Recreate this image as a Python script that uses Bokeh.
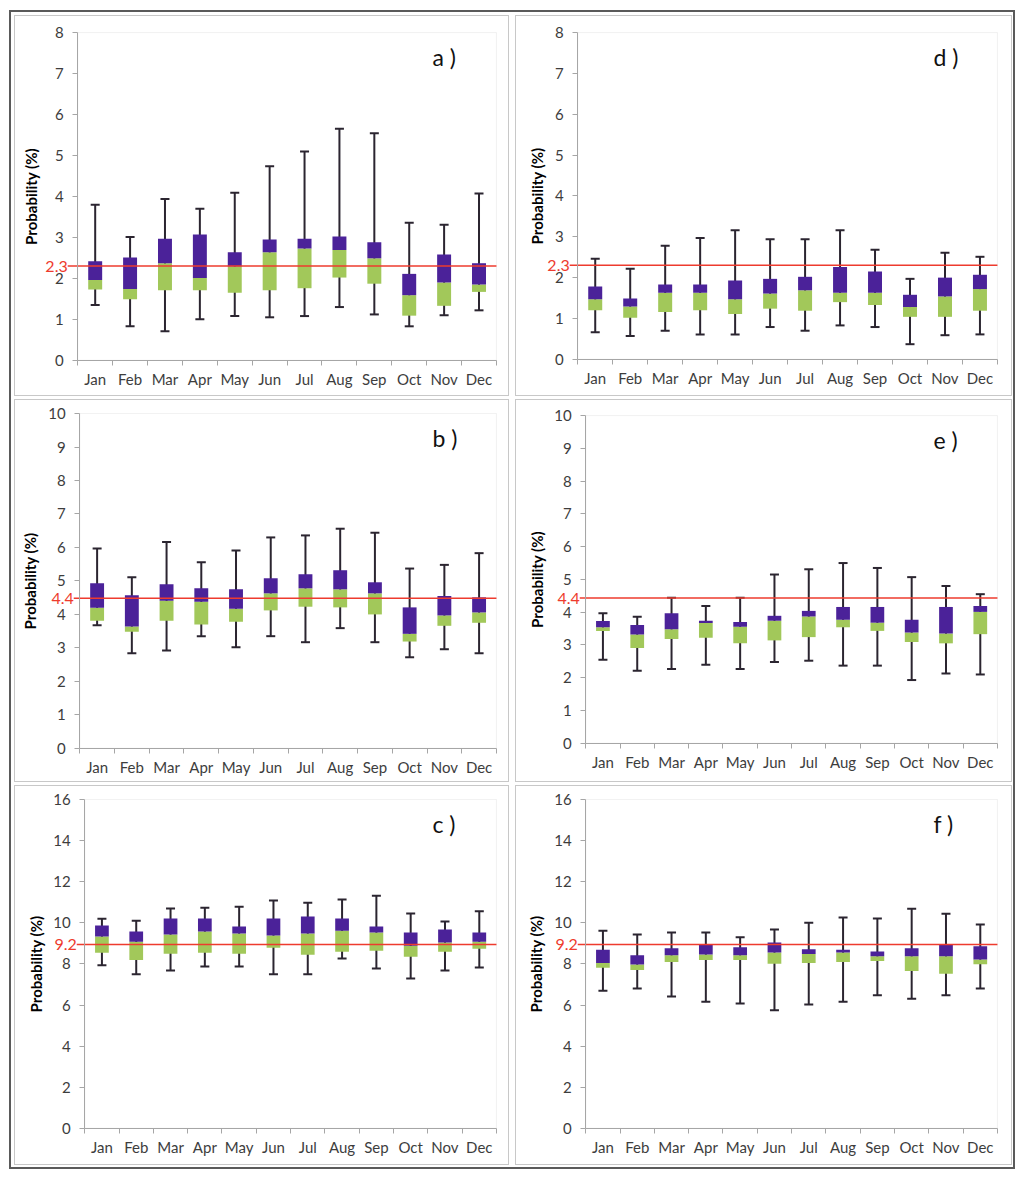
from bokeh.plotting import figure
from bokeh.layouts import column, row
from bokeh.models import FixedTicker, SingleIntervalTicker, Label, Range1d, BoxAnnotation
from bokeh.embed import file_html
from bokeh.resources import INLINE

MONTHS = ["Jan", "Feb", "Mar", "Apr", "May", "Jun", "Jul", "Aug", "Sep", "Oct", "Nov", "Dec"]

# panel a
A_MIN = [1.35, 0.83, 0.71, 1.00, 1.08, 1.05, 1.08, 1.30, 1.12, 0.83, 1.10, 1.22]
A_Q1 = [1.73, 1.49, 1.71, 1.71, 1.65, 1.71, 1.76, 2.02, 1.87, 1.09, 1.33, 1.67]
A_MED = [1.96, 1.74, 2.37, 2.01, 2.29, 2.64, 2.73, 2.69, 2.49, 1.59, 1.90, 1.85]
A_Q3 = [2.42, 2.51, 2.97, 3.07, 2.64, 2.95, 2.97, 3.02, 2.88, 2.11, 2.58, 2.37]
A_MAX = [3.80, 3.01, 3.94, 3.70, 4.09, 4.74, 5.10, 5.65, 5.54, 3.36, 3.31, 4.07]

# panel b
B_MIN = [3.68, 2.84, 2.92, 3.35, 3.02, 3.35, 3.17, 3.59, 3.17, 2.72, 2.96, 2.84]
B_Q1 = [3.81, 3.48, 3.81, 3.70, 3.78, 4.12, 4.23, 4.21, 4.00, 3.19, 3.66, 3.75]
B_MED = [4.20, 3.64, 4.41, 4.38, 4.17, 4.63, 4.78, 4.75, 4.63, 3.42, 3.97, 4.06]
B_Q3 = [4.93, 4.57, 4.90, 4.78, 4.75, 5.08, 5.20, 5.32, 4.96, 4.21, 4.55, 4.51]
B_MAX = [5.97, 5.11, 6.16, 5.56, 5.91, 6.30, 6.36, 6.56, 6.44, 5.37, 5.48, 5.83]

# panel c
C_MIN = [7.93, 7.50, 7.68, 7.88, 7.88, 7.50, 7.50, 8.27, 7.78, 7.29, 7.68, 7.83]
C_Q1 = [8.55, 8.19, 8.50, 8.55, 8.50, 8.79, 8.45, 8.59, 8.64, 8.35, 8.59, 8.74]
C_MED = [9.33, 9.08, 9.43, 9.58, 9.48, 9.38, 9.48, 9.62, 9.53, 8.89, 9.04, 9.08]
C_Q3 = [9.87, 9.58, 10.21, 10.21, 9.82, 10.21, 10.31, 10.21, 9.82, 9.53, 9.67, 9.53]
C_MAX = [10.20, 10.10, 10.70, 10.74, 10.78, 11.09, 10.98, 11.14, 11.32, 10.46, 10.07, 10.56]

# panel d
D_MIN = [0.66, 0.57, 0.70, 0.61, 0.61, 0.79, 0.70, 0.83, 0.79, 0.37, 0.59, 0.61]
D_Q1 = [1.20, 1.02, 1.16, 1.20, 1.11, 1.24, 1.19, 1.40, 1.33, 1.04, 1.04, 1.19]
D_MED = [1.47, 1.29, 1.63, 1.63, 1.47, 1.61, 1.69, 1.63, 1.63, 1.28, 1.54, 1.72]
D_Q3 = [1.78, 1.49, 1.83, 1.83, 1.93, 1.97, 2.02, 2.26, 2.15, 1.58, 2.00, 2.07]
D_MAX = [2.46, 2.22, 2.78, 2.97, 3.16, 2.94, 2.94, 3.16, 2.68, 1.97, 2.61, 2.51]

# panel e
E_MIN = [2.55, 2.21, 2.27, 2.40, 2.27, 2.48, 2.52, 2.37, 2.37, 1.93, 2.13, 2.10]
E_Q1 = [3.43, 2.91, 3.18, 3.22, 3.05, 3.14, 3.24, 3.54, 3.43, 3.09, 3.05, 3.33]
E_MED = [3.54, 3.32, 3.48, 3.67, 3.56, 3.74, 3.87, 3.77, 3.68, 3.38, 3.35, 4.01]
E_Q3 = [3.73, 3.61, 3.97, 3.74, 3.70, 3.89, 4.04, 4.16, 4.16, 3.77, 4.16, 4.19]
E_MAX = [3.97, 3.86, 4.44, 4.19, 4.44, 5.15, 5.31, 5.50, 5.35, 5.07, 4.80, 4.55]

# panel f
F_MIN = [6.70, 6.80, 6.42, 6.16, 6.08, 5.74, 6.03, 6.16, 6.47, 6.31, 6.47, 6.80]
F_Q1 = [7.81, 7.71, 8.10, 8.19, 8.19, 8.01, 8.04, 8.10, 8.14, 7.66, 7.52, 7.99]
F_MED = [8.04, 7.97, 8.42, 8.46, 8.42, 8.56, 8.48, 8.56, 8.37, 8.37, 8.37, 8.22]
F_Q3 = [8.69, 8.42, 8.76, 8.92, 8.81, 9.04, 8.71, 8.69, 8.61, 8.76, 8.92, 8.86]
F_MAX = [9.61, 9.43, 9.53, 9.53, 9.30, 9.67, 10.00, 10.26, 10.21, 10.69, 10.44, 9.92]

# reference lines (level as drawn, label as printed)
REF_LEVELS = {"a": 2.3, "d": 2.3, "b": 4.48, "e": 4.43, "c": 8.95, "f": 8.95}
REF_LABELS = {"a": "2.3", "d": "2.3", "b": "4.4", "e": "4.4", "c": "9.2", "f": "9.2"}
Y_MAX = {"a": 8, "d": 8, "b": 10, "e": 10, "c": 16, "f": 16}
Y_STEP = {"a": 1, "d": 1, "b": 1, "e": 1, "c": 2, "f": 2}

GREEN = "#a2c85a"
PURPLE = "#4b2299"
WHISK = "#2b2530"
RED = "#ee3b2e"
AXIS = "#a6a6a6"
TXT = "#3d3d3d"
FONT = "Lato"
PAD = 2  # canvas px kept outside the (enlarged) frame


def make_panel(letter, lo, q1, med, q3, hi, w, h, ax, br, bt, bb, ref_gap, lab_standoff):
    ymax = Y_MAX[letter]
    cw = w - 2  # canvas size inside the 1px css border
    ch = h - 2
    ppx = (cw - br - ax) / 12.0
    ppy = (ch - bb - bt) / float(ymax)
    x0 = -(ax - PAD) / ppx
    x1 = 12 + (br - PAD) / ppx
    y0 = -(bb - PAD) / ppy
    y1 = ymax + (bt - PAD) / ppy
    gap_units = ref_gap / ppx
    p = figure(width=w, height=h, x_range=Range1d(x0, x1), y_range=Range1d(y0, y1),
               output_backend="svg", toolbar_location=None,
               min_border_left=PAD, min_border_right=PAD, min_border_top=PAD, min_border_bottom=PAD,
               background_fill_color="white", border_fill_color="white",
               outline_line_color=None)
    p.xgrid.visible = False
    p.ygrid.visible = False
    x = [i + 0.5 for i in range(len(MONTHS))]

    p.add_layout(BoxAnnotation(left=0, right=12, bottom=0, top=ymax, fill_alpha=0,
                               line_color="#d0d0d0", line_width=1, level="underlay"))

    p.segment(x0=x, y0=lo, x1=x, y1=hi, line_color=WHISK, line_width=2)
    p.scatter(x=x, y=lo, marker="dash", size=9, line_color=WHISK, line_width=2)
    p.scatter(x=x, y=hi, marker="dash", size=9, line_color=WHISK, line_width=2)
    p.vbar(x=x, bottom=q1, top=med, width=0.4, fill_color=GREEN, line_color=None)
    p.vbar(x=x, bottom=med, top=q3, width=0.4, fill_color=PURPLE, line_color=None)

    lvl = REF_LEVELS[letter]
    p.segment(x0=[-gap_units], y0=[lvl], x1=[12], y1=[lvl], line_color=RED, line_width=1.5)
    p.add_layout(Label(x=-gap_units, y=lvl, text=REF_LABELS[letter],
                       text_align="right", text_baseline="middle", text_color=RED,
                       text_font=FONT, text_font_size="16px"))
    p.add_layout(Label(x=12, y=ymax, x_offset=-64, y_offset=-24, text=letter + " )",
                       text_align="left", text_baseline="alphabetic", text_color="#111111",
                       text_font=FONT, text_font_size="23px"))

    xa = p.xaxis[0]
    xa.fixed_location = 0
    xa.bounds = (0, 12)
    xa.ticker = FixedTicker(ticks=x, minor_ticks=list(range(len(MONTHS) + 1)))
    xa.major_label_overrides = {xi: m for xi, m in zip(x, MONTHS)}
    xa.major_tick_line_color = None
    xa.major_tick_in = 0
    xa.major_tick_out = 0
    xa.minor_tick_in = 0
    xa.minor_tick_out = 5
    xa.minor_tick_line_color = AXIS
    xa.axis_line_color = AXIS
    xa.major_label_standoff = 5
    xa.major_label_text_font = FONT
    xa.major_label_text_font_size = "15px"
    xa.major_label_text_color = TXT

    ya = p.yaxis[0]
    ya.fixed_location = 0
    ya.bounds = (0, ymax)
    ya.ticker = SingleIntervalTicker(interval=Y_STEP[letter], num_minor_ticks=0)
    ya.major_tick_in = 0
    ya.major_tick_out = 5
    ya.major_tick_line_color = AXIS
    ya.minor_tick_line_color = None
    ya.axis_line_color = AXIS
    ya.major_label_standoff = 9
    ya.major_label_text_font = FONT
    ya.major_label_text_font_size = "15px"
    ya.major_label_text_color = TXT
    ya.axis_label = "Probability (%)"
    ya.axis_label_text_font = FONT
    ya.axis_label_text_font_style = "bold"
    ya.axis_label_text_font_size = "15px"
    ya.axis_label_text_color = "#000000"
    ya.axis_label_standoff = lab_standoff

    p.styles = {"border": "1px solid #c8c8c8"}
    return p


pa = make_panel("a", A_MIN, A_Q1, A_MED, A_Q3, A_MAX, 495, 381, 62, 14, 16, 37, 10, 12)
pd = make_panel("d", D_MIN, D_Q1, D_MED, D_Q3, D_MAX, 497, 381, 61, 16, 16, 38, 8, 6)
pb = make_panel("b", B_MIN, B_Q1, B_MED, B_Q3, B_MAX, 495, 383, 64, 14, 13, 35, 6, 6)
pe = make_panel("e", E_MIN, E_Q1, E_MED, E_Q3, E_MAX, 497, 383, 69, 16, 15, 40, 6, 5)
pc = make_panel("c", C_MIN, C_Q1, C_MED, C_Q3, C_MAX, 495, 380, 69, 14, 13, 38, 8, 5)
pf = make_panel("f", F_MIN, F_Q1, F_MED, F_Q3, F_MAX, 497, 380, 69, 16, 13, 38, 8, 6)

layout = column(
    row(pa, pd, spacing=6),
    row(pb, pe, spacing=6),
    row(pc, pf, spacing=6),
    spacing=3,
    styles={"border": "2px solid #5a5a5a", "padding": "3px 1px 2px 3px",
            "margin": "10px 0 0 9px", "background-color": "white"},
)

open("out.html", "w").write(file_html(layout, INLINE))
